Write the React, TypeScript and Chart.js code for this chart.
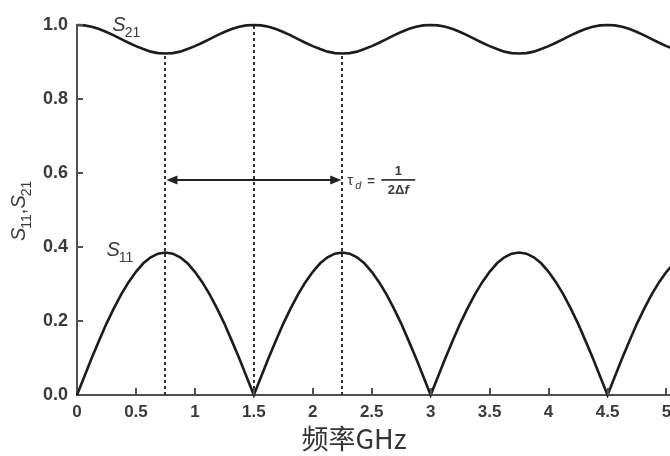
import React, { useEffect, useRef } from "react";
import { Chart, registerables } from "chart.js";
Chart.register(...registerables);

const freqGHz = [
  0, 0.0625, 0.125, 0.1875, 0.25, 0.3125, 0.375, 0.4375,
  0.5, 0.5625, 0.625, 0.6875, 0.75, 0.8125, 0.875, 0.9375,
  1, 1.0625, 1.125, 1.1875, 1.25, 1.3125, 1.375, 1.4375,
  1.5, 1.5625, 1.625, 1.6875, 1.75, 1.8125, 1.875, 1.9375,
  2, 2.0625, 2.125, 2.1875, 2.25, 2.3125, 2.375, 2.4375,
  2.5, 2.5625, 2.625, 2.6875, 2.75, 2.8125, 2.875, 2.9375,
  3, 3.0625, 3.125, 3.1875, 3.25, 3.3125, 3.375, 3.4375,
  3.5, 3.5625, 3.625, 3.6875, 3.75, 3.8125, 3.875, 3.9375,
  4, 4.0625, 4.125, 4.1875, 4.25, 4.3125, 4.375, 4.4375,
  4.5, 4.5625, 4.625, 4.6875, 4.75, 4.8125, 4.875, 4.9375,
  5, 5.0625,
];

const s11 = [
  0, 0.05, 0.1, 0.147, 0.193, 0.234, 0.272, 0.305,
  0.333, 0.356, 0.372, 0.382, 0.385, 0.382, 0.372, 0.356,
  0.333, 0.305, 0.272, 0.234, 0.193, 0.147, 0.1, 0.05,
  0, 0.05, 0.1, 0.147, 0.193, 0.234, 0.272, 0.305,
  0.333, 0.356, 0.372, 0.382, 0.385, 0.382, 0.372, 0.356,
  0.333, 0.305, 0.272, 0.234, 0.193, 0.147, 0.1, 0.05,
  0, 0.05, 0.1, 0.147, 0.193, 0.234, 0.272, 0.305,
  0.333, 0.356, 0.372, 0.382, 0.385, 0.382, 0.372, 0.356,
  0.333, 0.305, 0.272, 0.234, 0.193, 0.147, 0.1, 0.05,
  0, 0.05, 0.1, 0.147, 0.193, 0.234, 0.272, 0.305,
  0.333, 0.356,
];

const s21 = [
  1.0, 0.999, 0.995, 0.989, 0.981, 0.972, 0.962, 0.952,
  0.943, 0.935, 0.928, 0.924, 0.923, 0.924, 0.928, 0.935,
  0.943, 0.952, 0.962, 0.972, 0.981, 0.989, 0.995, 0.999,
  1.0, 0.999, 0.995, 0.989, 0.981, 0.972, 0.962, 0.952,
  0.943, 0.935, 0.928, 0.924, 0.923, 0.924, 0.928, 0.935,
  0.943, 0.952, 0.962, 0.972, 0.981, 0.989, 0.995, 0.999,
  1.0, 0.999, 0.995, 0.989, 0.981, 0.972, 0.962, 0.952,
  0.943, 0.935, 0.928, 0.924, 0.923, 0.924, 0.928, 0.935,
  0.943, 0.952, 0.962, 0.972, 0.981, 0.989, 0.995, 0.999,
  1.0, 0.999, 0.995, 0.989, 0.981, 0.972, 0.962, 0.952,
  0.943, 0.935,
];

// dotted guide lines: frequency and top value
const markerFreqs = [0.75, 1.5, 2.25];
const markerTops = [0.923, 1.0, 0.923];
// double arrow between first and third marker
const arrowFrom = 0.75;
const arrowTo = 2.25;
const arrowY = 0.58;

const xTitle = "频率GHz";

const TEXT = "#3a3a3a";
const AXIS = "#505050";
const LINE = "#1c1c1c";
const FONT = "'Liberation Sans', Arial, sans-serif";

function drawSubLabel(ctx: CanvasRenderingContext2D, x: number, y: number, main: string, sub: string, size: number) {
  ctx.font = `italic ${size}px ${FONT}`;
  ctx.fillText(main, x, y);
  const w = ctx.measureText(main).width;
  ctx.font = `${Math.round(size * 0.72)}px ${FONT}`;
  ctx.fillText(sub, x + w - 1, y + size * 0.3);
  return w - 1 + ctx.measureText(sub).width;
}

const overlayPlugin = {
  id: "overlay",
  beforeDatasetsDraw(chart: any) {
    const ctx = chart.ctx as CanvasRenderingContext2D;
    const xs = chart.scales.x;
    const ys = chart.scales.y;
    ctx.save();
    ctx.strokeStyle = "#333";
    ctx.lineWidth = 2;
    ctx.setLineDash([3, 3]);
    markerFreqs.forEach((f, i) => {
      const px = Math.round(xs.getPixelForValue(f));
      ctx.beginPath();
      ctx.moveTo(px, ys.getPixelForValue(0));
      ctx.lineTo(px, ys.getPixelForValue(markerTops[i]));
      ctx.stroke();
    });
    ctx.restore();
  },
  afterDraw(chart: any) {
    const ctx = chart.ctx as CanvasRenderingContext2D;
    const xs = chart.scales.x;
    const ys = chart.scales.y;
    const area = chart.chartArea;
    ctx.save();
    // inward ticks
    ctx.strokeStyle = AXIS;
    ctx.lineWidth = 2;
    xs.ticks.forEach((t: any) => {
      if (t.value === 0) return;
      const px = Math.round(xs.getPixelForValue(t.value));
      ctx.beginPath();
      ctx.moveTo(px, area.bottom);
      ctx.lineTo(px, area.bottom - 7);
      ctx.stroke();
    });
    ys.ticks.forEach((t: any) => {
      if (t.value === 0) return;
      const py = Math.round(ys.getPixelForValue(t.value));
      ctx.beginPath();
      ctx.moveTo(area.left, py);
      ctx.lineTo(area.left + 6, py);
      ctx.stroke();
    });

    // double arrow
    const ax1 = xs.getPixelForValue(arrowFrom) + 1;
    const ax2 = xs.getPixelForValue(arrowTo) - 1;
    const ay = Math.round(ys.getPixelForValue(arrowY));
    ctx.strokeStyle = "#222";
    ctx.fillStyle = "#222";
    ctx.lineWidth = 2;
    ctx.beginPath();
    ctx.moveTo(ax1 + 8, ay);
    ctx.lineTo(ax2 - 8, ay);
    ctx.stroke();
    ctx.beginPath();
    ctx.moveTo(ax1, ay);
    ctx.lineTo(ax1 + 11, ay - 4.5);
    ctx.lineTo(ax1 + 11, ay + 4.5);
    ctx.closePath();
    ctx.fill();
    ctx.beginPath();
    ctx.moveTo(ax2, ay);
    ctx.lineTo(ax2 - 11, ay - 4.5);
    ctx.lineTo(ax2 - 11, ay + 4.5);
    ctx.closePath();
    ctx.fill();

    // annotation tau_d = 1/(2Δf)
    ctx.fillStyle = TEXT;
    ctx.textBaseline = "alphabetic";
    ctx.textAlign = "left";
    const tx = ax2 + 6;
    ctx.font = `15px ${FONT}`;
    ctx.fillText("τ", tx, ay + 5);
    ctx.font = `italic 11px ${FONT}`;
    ctx.fillText("d", tx + 8, ay + 9);
    ctx.font = `bold 13px ${FONT}`;
    ctx.fillText("=", tx + 20, ay + 5);
    const fx = tx + 51;
    ctx.textAlign = "center";
    ctx.font = `bold 13px ${FONT}`;
    ctx.fillText("1", fx, ay - 5);
    ctx.fillRect(fx - 17, ay - 1, 34, 1.8);
    ctx.textAlign = "left";
    ctx.font = `bold 13px ${FONT}`;
    const dw = ctx.measureText("2Δ").width;
    ctx.font = `italic bold 13px ${FONT}`;
    const fw = ctx.measureText("f").width;
    const dx = fx - (dw + fw) / 2;
    ctx.font = `bold 13px ${FONT}`;
    ctx.fillText("2Δ", dx, ay + 14);
    ctx.font = `italic bold 13px ${FONT}`;
    ctx.fillText("f", dx + dw, ay + 14);

    // curve labels
    ctx.textAlign = "left";
    ctx.fillStyle = TEXT;
    drawSubLabel(ctx, xs.getPixelForValue(0.3), ys.getPixelForValue(0.985), "S", "21", 20);
    drawSubLabel(ctx, xs.getPixelForValue(0.25), ys.getPixelForValue(0.375), "S", "11", 20);

    // y-axis title (rotated)
    ctx.save();
    ctx.translate(25, 241);
    ctx.rotate(-Math.PI / 2);
    let cx = 0;
    cx += drawSubLabel(ctx, cx, 0, "S", "11", 20);
    ctx.font = `20px ${FONT}`;
    ctx.fillText(",", cx, 0);
    cx += ctx.measureText(",").width;
    drawSubLabel(ctx, cx, 0, "S", "21", 20);
    ctx.restore();

    // x-axis title
    ctx.fillStyle = "#333";
    ctx.textAlign = "center";
    ctx.textBaseline = "middle";
    ctx.font = `27px 'Noto Sans CJK SC', 'Liberation Sans', sans-serif`;
    ctx.fillText(xTitle, 354, 439);
    ctx.restore();
  },
};

export default function App() {
  const ref = useRef<HTMLCanvasElement | null>(null);
  useEffect(() => {
    document.body.style.margin = "0";
    const canvas = ref.current!;
    const chart = new Chart(canvas, {
      type: "line",
      data: {
        datasets: [
          {
            label: "S21",
            data: freqGHz.map((f, i) => ({ x: f, y: s21[i] })),
            borderColor: LINE,
            borderWidth: 2.6,
            pointRadius: 0,
            tension: 0,
            clip: false as any,
          },
          {
            label: "S11",
            data: freqGHz.map((f, i) => ({ x: f, y: s11[i] })),
            borderColor: LINE,
            borderWidth: 2.6,
            pointRadius: 0,
            tension: 0,
            clip: false as any,
          },
        ],
      },
      options: {
        responsive: false,
        animation: false,
        layout: { padding: { top: 25, right: 20, left: 0, bottom: 0 } },
        plugins: { legend: { display: false }, tooltip: { enabled: false } },
        scales: {
          x: {
            type: "linear",
            min: 0,
            max: 5.03,
            grid: { display: false, drawTicks: false },
            border: { display: true, color: AXIS, width: 2 },
            ticks: {
              stepSize: 0.5,
              includeBounds: false,
              padding: 7,
              color: TEXT,
              font: { family: FONT, size: 17, weight: "bold" },
              maxRotation: 0,
              callback: (v: any) => String(v),
            },
            afterFit: (s: any) => {
              s.height = 61;
            },
          },
          y: {
            type: "linear",
            min: 0,
            max: 1,
            grid: { display: false, drawTicks: false },
            border: { display: true, color: AXIS, width: 2 },
            ticks: {
              stepSize: 0.2,
              padding: 9,
              color: TEXT,
              font: { family: FONT, size: 18, weight: "bold" },
              callback: (v: any) => Number(v).toFixed(1),
            },
            afterFit: (s: any) => {
              s.width = 77;
            },
          },
        },
      },
      plugins: [overlayPlugin],
    });
    return () => chart.destroy();
  }, []);
  return (
    <div style={{ position: "absolute", left: 0, top: 0, width: 670, height: 456, overflow: "hidden", background: "#fff" }}>
      <canvas ref={ref} width={690} height={456} style={{ display: "block" }} />
    </div>
  );
}
